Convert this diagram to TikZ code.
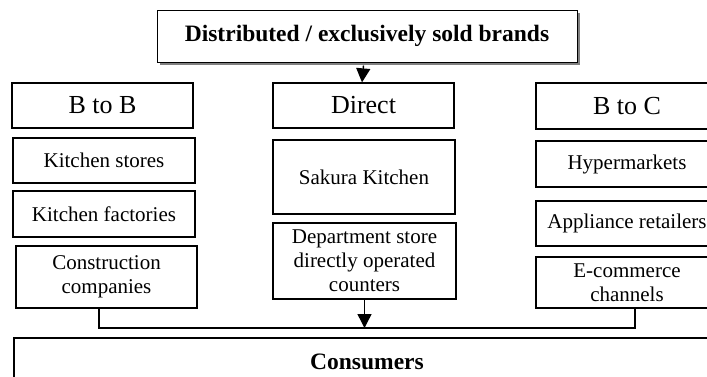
\documentclass[tikz,border=0pt]{standalone}
\usepackage{fontspec}
\setmainfont{Liberation Serif}
\usetikzlibrary{arrows.meta,shadows}

\begin{document}
\begin{tikzpicture}[x=1pt,y=-1pt,
  box/.style={draw, line width=1.3pt, rectangle, align=center, inner sep=0pt,
    font=\fontsize{21}{24}\selectfont},
  headbox/.style={box, font=\fontsize{26}{28}\selectfont},
  flow/.style={line width=1.4pt},
  arrowflow/.style={flow, -{Triangle[length=14pt,width=14pt]}}
]
\useasboundingbox (0,0) rectangle (707,376);
\clip (0,0) rectangle (707,376);

% source of all channels
\node[box, line width=1pt, minimum width=420pt, minimum height=52pt,
  font=\fontsize{23.5}{26}\selectfont\bfseries,
  drop shadow={shadow xshift=3pt, shadow yshift=-3pt, fill=black!50, opacity=1},
  fill=white] (title) at (367,36) {Distributed / exclusively sold brands};

% channel headings
\node[headbox, minimum width=181pt, minimum height=45pt] (btob) at (102.5,105.5) {B to B};
\node[headbox, minimum width=181pt, minimum height=45pt] (direct) at (363.5,105.5) {Direct};
\node[headbox, minimum width=182pt, minimum height=46pt] (btoc) at (627,106) {B to C};

% B to B column
\node[box, minimum width=182pt, minimum height=45pt] (ks) at (104,160.5) {Kitchen stores};
\node[box, minimum width=182pt, minimum height=46pt] (kf) at (104,214) {Kitchen factories};
\node[box, minimum width=181pt, minimum height=62pt] (cc) at (106.5,277) {Construction\\companies};

% Direct column
\node[box, minimum width=182pt, minimum height=74pt] (sk) at (364,177) {Sakura Kitchen};
\node[box, minimum width=183pt, minimum height=76pt] (ds) at (364.5,261) {Department store\\directly operated\\counters};

% B to C column
\node[box, minimum width=182pt, minimum height=46pt] (hm) at (627,164) {Hypermarkets};
\node[box, minimum width=182pt, minimum height=45pt] (ar) at (627,223.5) {Appliance retailers};
\node[box, minimum width=182pt, minimum height=51pt] (ec) at (627,282.5) {E-commerce\\channels};

% end customers
\node[box, minimum width=706pt, minimum height=52pt] (cons) at (367,364) {};
\node[font=\fontsize{23.5}{26}\selectfont\bfseries, inner sep=0pt] (conslabel) at (367,362) {Consumers};

% connectors
\coordinate (busL) at (99,328);
\coordinate (busR) at (635,328);
\draw[arrowflow] ([yshift=-3pt]direct.north |- title.south) -- (direct.north -| 362,0);
\draw[flow] (busL |- cc.south) -- (busL) -- (busR) -- (busR |- ec.south);
\draw[arrowflow] (ds.south) -- (ds.south |- busL);
\end{tikzpicture}
\end{document}
